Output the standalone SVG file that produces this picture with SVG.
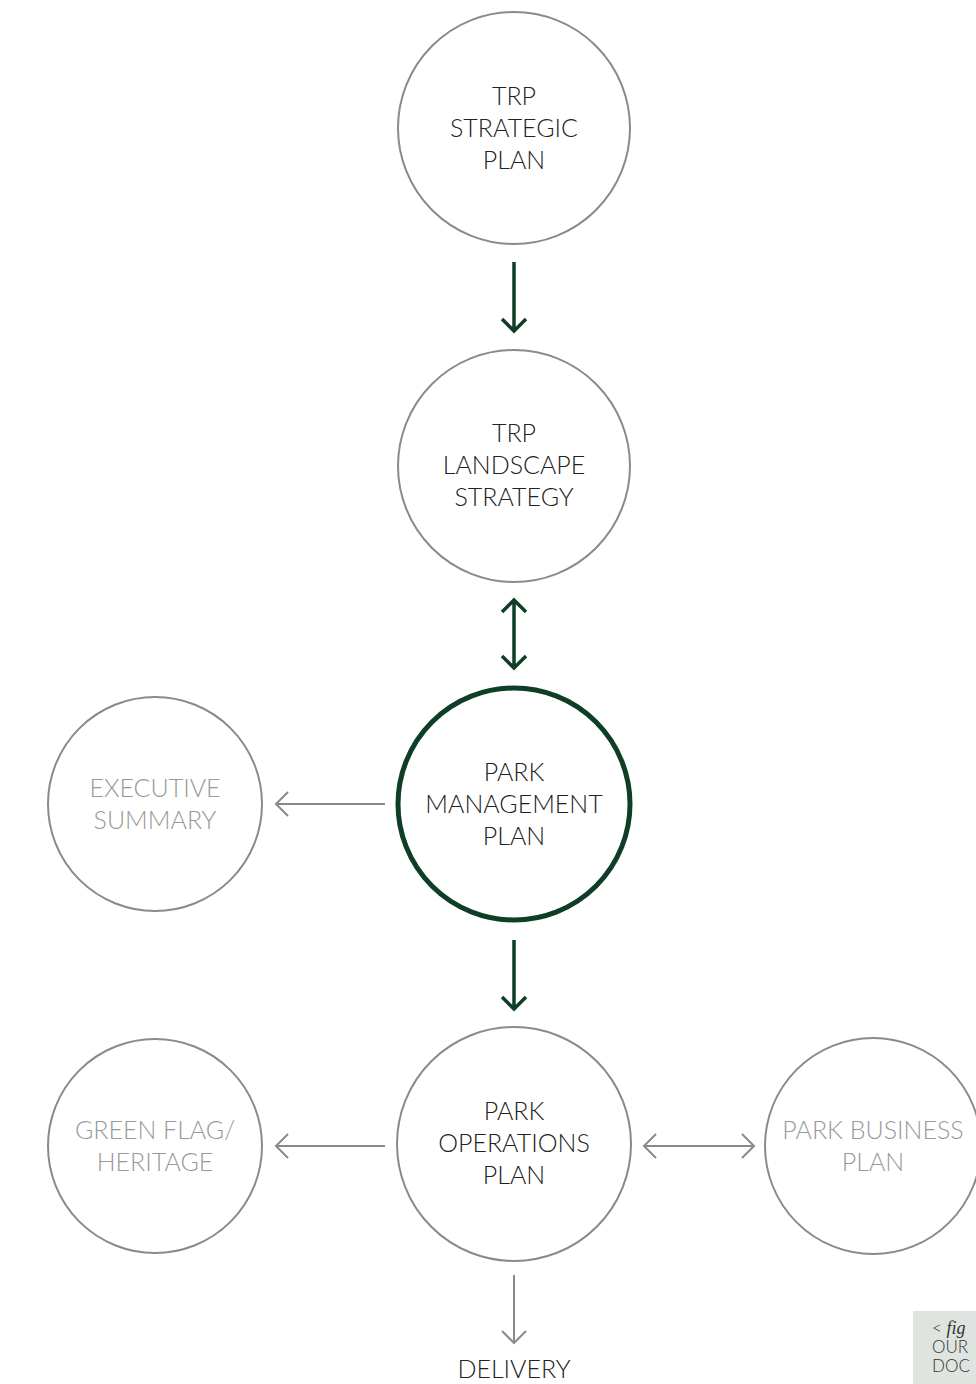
<svg xmlns="http://www.w3.org/2000/svg" width="976" height="1384" viewBox="0 0 976 1384">
<style>
.c{fill:#fff;stroke:#8a8a8a;stroke-width:2}
.cm{fill:#fff;stroke:#0e3f26;stroke-width:5}
.t{font-family:Lato,"Open Sans",sans-serif;font-weight:300;font-size:25px;fill:#222;text-anchor:middle}
.tg{font-family:Lato,"Open Sans",sans-serif;font-weight:300;font-size:25px;fill:#999;text-anchor:middle}
.ga{fill:none;stroke:#8a8a8a;stroke-width:2}
.da{fill:none;stroke:#0e3f26;stroke-width:3.5}
.cap{font-family:Lato,"Open Sans",sans-serif;font-weight:300;font-size:17px;fill:#333}
</style>
<rect width="976" height="1384" fill="#fff"/>
<g id="connectors">
<path class="da" d="M514 262V331M502 319L514 331L526 319"/>
<path class="da" d="M514 600V668M502 612L514 600L526 612M502 656L514 668L526 656"/>
<path class="da" d="M514 940V1009M502 997L514 1009L526 997"/>
<path class="ga" d="M385 804H276M288 792L276 804L288 816"/>
<path class="ga" d="M385 1146H276M288 1134L276 1146L288 1158"/>
<path class="ga" d="M644 1146H754M656 1134L644 1146L656 1158M742 1134L754 1146L742 1158"/>
<path class="ga" d="M514 1275V1343M502 1331L514 1343L526 1331"/>
</g>
<g id="n1"><circle class="c" cx="514" cy="128" r="116"/>
<text class="t" x="514" y="105">TRP</text><text class="t" x="514" y="137">STRATEGIC</text><text class="t" x="514" y="169">PLAN</text></g>
<g id="n2"><circle class="c" cx="514" cy="466" r="116"/>
<text class="t" x="514" y="442">TRP</text><text class="t" x="514" y="474">LANDSCAPE</text><text class="t" x="514" y="506">STRATEGY</text></g>
<g id="n3"><circle class="cm" cx="514" cy="804" r="116"/>
<text class="t" x="514" y="781">PARK</text><text class="t" x="514" y="813">MANAGEMENT</text><text class="t" x="514" y="845">PLAN</text></g>
<g id="n4"><circle class="c" cx="155" cy="804" r="107"/>
<text class="tg" x="155" y="797">EXECUTIVE</text><text class="tg" x="155" y="829">SUMMARY</text></g>
<g id="n5"><circle class="c" cx="514" cy="1144" r="117"/>
<text class="t" x="514" y="1120">PARK</text><text class="t" x="514" y="1152">OPERATIONS</text><text class="t" x="514" y="1184">PLAN</text></g>
<g id="n6"><circle class="c" cx="155" cy="1146" r="107"/>
<text class="tg" x="155" y="1139">GREEN FLAG/</text><text class="tg" x="155" y="1171">HERITAGE</text></g>
<g id="n7"><circle class="c" cx="873" cy="1146" r="108"/>
<text class="tg" x="873" y="1139">PARK BUSINESS</text><text class="tg" x="873" y="1171">PLAN</text></g>
<g id="n8"><text class="t" x="514" y="1378">DELIVERY</text></g>
<g id="caption"><rect x="913" y="1311" width="63" height="73" fill="#dfe4e0"/>
<text class="cap" x="932" y="1334">&lt; <tspan font-family="'Liberation Serif',serif" font-style="italic" font-weight="400" font-size="18">fig</tspan></text>
<text class="cap" x="932" y="1353">OUR</text><text class="cap" x="932" y="1372">DOC</text></g>
</svg>
